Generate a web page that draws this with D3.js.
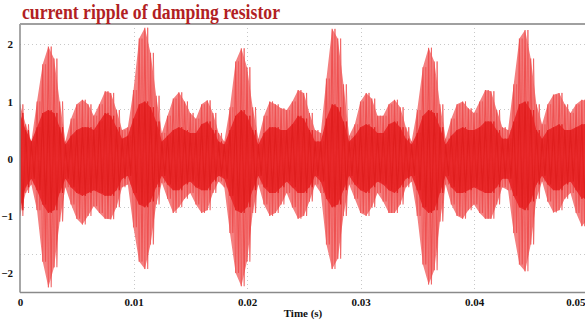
<!DOCTYPE html>
<html><head><meta charset="utf-8">
<script src="https://cdn.jsdelivr.net/npm/d3@7"></script>
<style>body{margin:0;background:#fff}svg{display:block}</style>
</head><body><svg id="c" width="585" height="325"></svg>
<script>
const titleText = "current ripple of damping resistor";
const xLabel = "Time (s)";
const xTicks = [0, 0.01, 0.02, 0.03, 0.04, 0.05];
const xTickLabels = ["0", "0.01", "0.02", "0.03", "0.04", "0.05"];
const yTicks = [2, 1, 0, -1, -2];
const yGrid = [2, 0.86, -0.84, -1.67];
const xGrid = [0.01, 0.02, 0.03, 0.04];

const time = [0,0.0005,0.001,0.0015,0.002,0.0025,0.003,0.0035,0.004,0.0045,
0.005,0.0055,0.006,0.0065,0.007,0.0075,0.008,0.0085,0.009,0.0095,
0.01,0.0105,0.011,0.0115,0.012,0.0125,0.013,0.0135,0.014,0.0145,
0.015,0.0155,0.016,0.0165,0.017,0.0175,0.018,0.0185,0.019,0.0195,
0.02,0.0205,0.021,0.0215,0.022,0.0225,0.023,0.0235,0.024,0.0245,
0.025,0.0255,0.026,0.0265,0.027,0.0275,0.028,0.0285,0.029,0.0295,
0.03,0.0305,0.031,0.0315,0.032,0.0325,0.033,0.0335,0.034,0.0345,
0.035,0.0355,0.036,0.0365,0.037,0.0375,0.038,0.0385,0.039,0.0395,
0.04,0.0405,0.041,0.0415,0.042,0.0425,0.043,0.0435,0.044,0.0445,
0.045,0.0455,0.046,0.0465,0.047,0.0475,0.048,0.0485,0.049,0.0495,0.05];

const upper = [0.95,0.6,0.3,1.0,1.65,1.96,1.75,1.0,0.3,0.7,
0.95,1.03,0.95,0.75,0.95,1.18,1.15,0.85,0.5,0.55,
1.2,2.1,2.29,1.85,1.1,0.45,0.75,1.05,1.16,1.0,
0.8,0.7,0.95,1.02,0.8,0.45,0.3,0.9,1.7,1.93,
1.6,0.9,0.35,0.75,1.0,0.95,0.88,0.85,1.0,1.2,
1.15,0.8,0.5,0.45,1.4,2.27,2.1,1.3,0.4,0.6,
1.0,1.15,1.05,0.75,0.75,0.95,1.03,0.9,0.55,0.3,
0.85,1.6,1.94,1.7,0.95,0.35,0.7,0.95,1.0,0.88,
0.8,1.0,1.2,1.18,0.85,0.55,0.5,1.3,2.1,2.25,
1.75,0.95,0.6,0.95,1.12,1.15,0.95,0.8,0.95,1.03,1.0];

const lower = [-1.0,-0.6,-0.45,-0.9,-1.8,-2.25,-1.9,-1.1,-0.5,-0.8,
-1.05,-1.15,-1.0,-0.83,-0.95,-1.05,-1.06,-0.85,-0.5,-0.45,
-1.2,-1.8,-1.93,-1.5,-0.8,-0.42,-0.7,-0.95,-0.85,-0.7,
-0.6,-0.8,-0.95,-0.9,-0.6,-0.4,-0.5,-1.3,-2.0,-2.23,
-1.8,-0.95,-0.45,-0.8,-1.0,-0.95,-0.8,-0.6,-0.85,-1.05,
-1.0,-0.75,-0.45,-0.6,-1.5,-1.93,-1.75,-1.0,-0.45,-0.7,
-0.95,-1.0,-0.85,-0.6,-0.75,-0.95,-0.95,-0.8,-0.5,-0.4,
-1.0,-1.85,-2.2,-1.95,-1.1,-0.45,-0.8,-1.0,-1.05,-0.9,
-0.8,-0.95,-1.05,-1.05,-0.8,-0.5,-0.55,-1.3,-1.85,-1.97,
-1.5,-0.7,-0.4,-0.75,-0.94,-0.9,-0.7,-0.6,-0.95,-1.18,-1.06];

const innerUpper = [0.8,0.5,0.3,0.55,0.8,0.85,0.8,0.55,0.25,0.4,
0.5,0.55,0.55,0.5,0.65,0.8,0.75,0.55,0.35,0.4,
0.7,0.95,1.0,0.9,0.65,0.3,0.4,0.5,0.55,0.5,
0.45,0.45,0.6,0.65,0.5,0.3,0.25,0.5,0.75,0.85,
0.75,0.5,0.25,0.45,0.55,0.55,0.5,0.5,0.6,0.75,
0.7,0.5,0.3,0.3,0.7,0.95,0.9,0.65,0.3,0.4,
0.55,0.6,0.55,0.45,0.45,0.6,0.65,0.55,0.35,0.25,
0.45,0.75,0.85,0.8,0.55,0.25,0.4,0.5,0.55,0.5,
0.5,0.55,0.65,0.65,0.5,0.35,0.35,0.65,0.95,1.0,
0.85,0.5,0.35,0.5,0.55,0.6,0.5,0.5,0.55,0.6,0.6];

const innerLower = [-0.9,-0.5,-0.35,-0.55,-0.8,-0.95,-0.9,-0.6,-0.35,-0.5,
-0.6,-0.65,-0.6,-0.55,-0.6,-0.65,-0.65,-0.55,-0.35,-0.3,
-0.6,-0.8,-0.85,-0.75,-0.5,-0.3,-0.45,-0.55,-0.55,-0.45,
-0.4,-0.5,-0.55,-0.55,-0.4,-0.3,-0.35,-0.65,-0.9,-0.95,
-0.85,-0.55,-0.3,-0.5,-0.6,-0.6,-0.5,-0.4,-0.5,-0.6,
-0.6,-0.5,-0.3,-0.4,-0.7,-0.85,-0.8,-0.55,-0.3,-0.45,
-0.55,-0.6,-0.5,-0.4,-0.45,-0.55,-0.6,-0.5,-0.35,-0.3,
-0.55,-0.85,-0.95,-0.9,-0.6,-0.3,-0.5,-0.6,-0.6,-0.55,
-0.5,-0.55,-0.6,-0.6,-0.5,-0.35,-0.35,-0.65,-0.85,-0.9,
-0.75,-0.45,-0.3,-0.45,-0.55,-0.55,-0.45,-0.4,-0.55,-0.7,-0.65];

const svg = d3.select("#c");
const pLeft = 20, pRight = 585, pTop = 24, pBottom = 292.5;
const x = d3.scaleLinear().domain([0, 0.05]).range([pLeft, 587.5]);
const y = d3.scaleLinear().domain([-2.34, 2.355]).range([pBottom, pTop]);
const serif = "'Liberation Serif', 'Times New Roman', serif";

svg.append("defs").append("clipPath").attr("id", "clip")
  .append("rect").attr("x", pLeft).attr("y", pTop).attr("width", pRight - pLeft).attr("height", pBottom - pTop);

// grid
const grid = svg.append("g").attr("stroke", "#c8c8c8").attr("stroke-width", 1).attr("stroke-dasharray", "1,3");
grid.selectAll("line.h").data(yGrid).join("line").attr("class", "h")
  .attr("x1", pLeft).attr("x2", pRight).attr("y1", d => Math.round(y(d)) + 0.5).attr("y2", d => Math.round(y(d)) + 0.5);
grid.selectAll("line.v").data(xGrid).join("line").attr("class", "v")
  .attr("y1", pTop).attr("y2", pBottom).attr("x1", d => Math.round(x(d)) + 0.5).attr("x2", d => Math.round(x(d)) + 0.5);

const plot = svg.append("g").attr("clip-path", "url(#clip)");
const half = (time[1] - time[0]) / 2;
const idx = d3.range(time.length);

// outer envelope background
plot.append("path")
  .attr("d", d3.area().x(i => x(time[i])).y0(i => y(lower[i])).y1(i => y(upper[i])).curve(d3.curveLinear)(idx))
  .attr("fill", "#f48080");

function zig(hiArr, loArr, phase) {
  const pts = [];
  idx.forEach(i => {
    if (phase === 0) { pts.push([time[i], hiArr[i]]); pts.push([time[i] + half, loArr[i]]); }
    else { pts.push([time[i], loArr[i]]); pts.push([time[i] + half, hiArr[i]]); }
  });
  return d3.line().x(p => x(p[0])).y(p => y(p[1]))(pts);
}
plot.append("path").attr("d", zig(upper, lower, 0)).attr("fill", "none").attr("stroke", "#ec4444").attr("stroke-opacity", 0.8).attr("stroke-width", 1.1);
plot.append("path").attr("d", zig(upper, lower, 1)).attr("fill", "none").attr("stroke", "#f05a5a").attr("stroke-opacity", 0.8).attr("stroke-width", 1.0);

// inner dense band
plot.append("path")
  .attr("d", d3.area().x(i => x(time[i])).y0(i => y(innerLower[i])).y1(i => y(innerUpper[i])).curve(d3.curveLinear)(idx))
  .attr("fill", "#e92a2c");
plot.append("path").attr("d", zig(innerUpper, innerLower, 0)).attr("fill", "none").attr("stroke", "#e01e1e").attr("stroke-width", 1.2);
plot.append("path").attr("d", zig(innerUpper, innerLower, 1)).attr("fill", "none").attr("stroke", "#e62626").attr("stroke-width", 1.0);

// axes
const xAxis = d3.axisBottom(x).tickValues(xTicks).tickFormat((d, i) => xTickLabels[i]).tickSize(0).tickPadding(6);
const gx = svg.append("g").attr("transform", `translate(0,${pBottom})`).call(xAxis);
gx.select(".domain").remove();
gx.selectAll("text").attr("font-family", serif).attr("font-weight", "bold").attr("font-size", 11).attr("fill", "#111");
gx.selectAll(".tick").filter(d => x(d) > pRight - 10).select("text").attr("text-anchor", "end").attr("x", pRight - x(0.05));

const yAxis = d3.axisLeft(y).tickValues(yTicks).tickFormat(d3.format("d")).tickSize(0).tickPadding(7);
const gy = svg.append("g").attr("transform", `translate(${pLeft},0)`).call(yAxis);
gy.select(".domain").remove();
gy.selectAll("text").attr("font-family", serif).attr("font-weight", "bold").attr("font-size", 11).attr("fill", "#111");

svg.append("line").attr("x1", pLeft).attr("x2", pRight).attr("y1", pBottom).attr("y2", pBottom).attr("stroke", "#8a8a8a").attr("stroke-width", 1.5);
svg.append("line").attr("x1", pLeft).attr("x2", pLeft).attr("y1", pTop).attr("y2", pBottom).attr("stroke", "#8a8a8a").attr("stroke-width", 1.5);
svg.append("line").attr("x1", pLeft).attr("x2", pRight).attr("y1", pTop).attr("y2", pTop).attr("stroke", "#a0a0a0").attr("stroke-width", 2);

svg.append("text").attr("x", 303).attr("y", 317).attr("text-anchor", "middle")
  .attr("font-family", serif).attr("font-weight", "bold").attr("font-size", 11).attr("fill", "#111")
  .text(xLabel);

svg.append("text").attr("x", 22).attr("y", 19).attr("textLength", 258).attr("lengthAdjust", "spacingAndGlyphs")
  .attr("font-family", serif).attr("font-weight", "bold").attr("font-size", 20).attr("fill", "#b21f24")
  .text(titleText);
</script></body></html>
